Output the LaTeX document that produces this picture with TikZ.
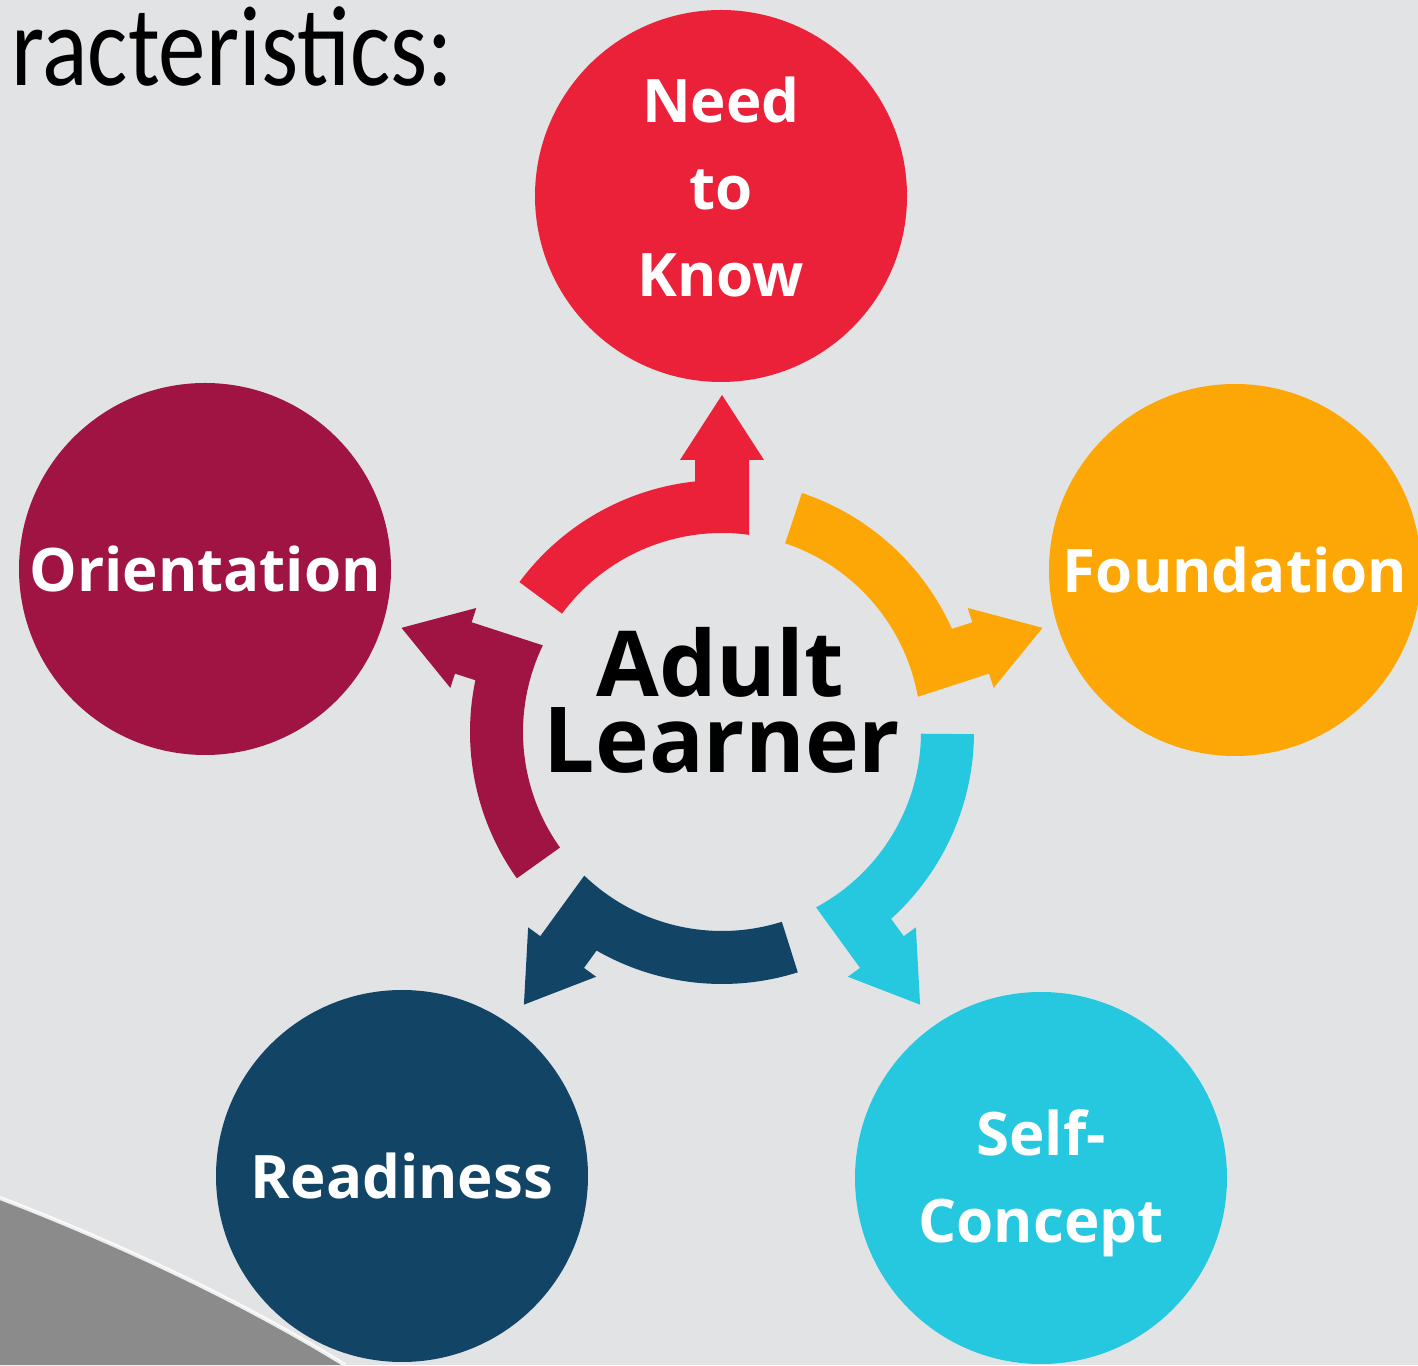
\documentclass[tikz,border=0pt]{standalone}
\usepackage{fontspec}
\setsansfont{Open Sans}
\newfontfamily\titlefont{Carlito}
\usetikzlibrary{positioning}

\definecolor{slidebg}{HTML}{E2E3E5}
\definecolor{slidegray}{HTML}{8B8B8B}
\definecolor{needred}{HTML}{EB2039}
\definecolor{foundorange}{HTML}{FCA705}
\definecolor{selfcyan}{HTML}{26C8DF}
\definecolor{readyblue}{HTML}{124466}
\definecolor{orientred}{HTML}{A01443}

% one bent arrow of the ring, head pointing up before rotation
\newcommand{\ringarrow}[2]{%
  \fill[#2, shift={(ring)}, rotate=#1]
    (143.5:252) arc[start angle=143.5, end angle=96.15, radius=252]
    -- (-27,272) -- (-42,272) -- (0,337) -- (42,272) -- (27,272)
    -- (82.2:199) arc[start angle=82.2, end angle=143.5, radius=199] -- cycle;}

\tikzset{
  topic/.style={circle, minimum size=372pt, inner sep=0pt, text=white,
    font=\sffamily\bfseries\fontsize{60}{87}\selectfont, align=center},
  topictext/.style={inner sep=0pt, text=white, align=center,
    font=\sffamily\bfseries\fontsize{60}{87}\selectfont},
  hub/.style={inner sep=0pt, text=black,
    font=\sffamily\bfseries\fontsize{91}{91}\selectfont}
}

\begin{document}
\begin{tikzpicture}[x=1pt,y=1pt]
		%slide background
		\useasboundingbox (0,0) rectangle (1418,1365);
		\clip (0,0) rectangle (1418,1365);
		\fill[slidebg] (0,0) rectangle (1418,1365);
		\fill[slidegray] (0,167) .. controls (110,125) and (240,65) .. (345,0) -- (0,0) -- cycle;
		\draw[white, line width=4pt, opacity=0.85] (0,167) .. controls (110,125) and (240,65) .. (345,0);
		
		%title
		\node[anchor=base west, inner sep=0pt, font=\titlefont\fontsize{95}{95}\selectfont] (title) at (11,1279) {\scalebox{1}[1.2]{racteristics:}};
		
		%circles
		\node[topic, fill=needred, label={[topictext, yshift=9pt]center:{Need\\to\\Know}}] (need) at (721,1169) {};
		\node[topic, fill=foundorange] (found) at (1235,795) {Foundation};
		\node[topic, fill=selfcyan, label={[topictext, yshift=-5pt]center:{Self-\\Concept}}] (self) at (1041,187) {};
		\node[topic, fill=readyblue] (ready) at (402,189) {Readiness};
		\node[topic, fill=orientred] (orient) at (205,796) {Orientation};
		
		%ring
		\coordinate (ring) at (722,633);
		\node[hub, anchor=base] (adult) at (720,668) {Adult};
		\node[hub, anchor=base] (learner) at (722,592) {Learner};
		\ringarrow{0}{needred}
		\ringarrow{-72}{foundorange}
		\ringarrow{-144}{selfcyan}
		\ringarrow{144}{readyblue}
		\ringarrow{72}{orientred}
\end{tikzpicture}
\end{document}
